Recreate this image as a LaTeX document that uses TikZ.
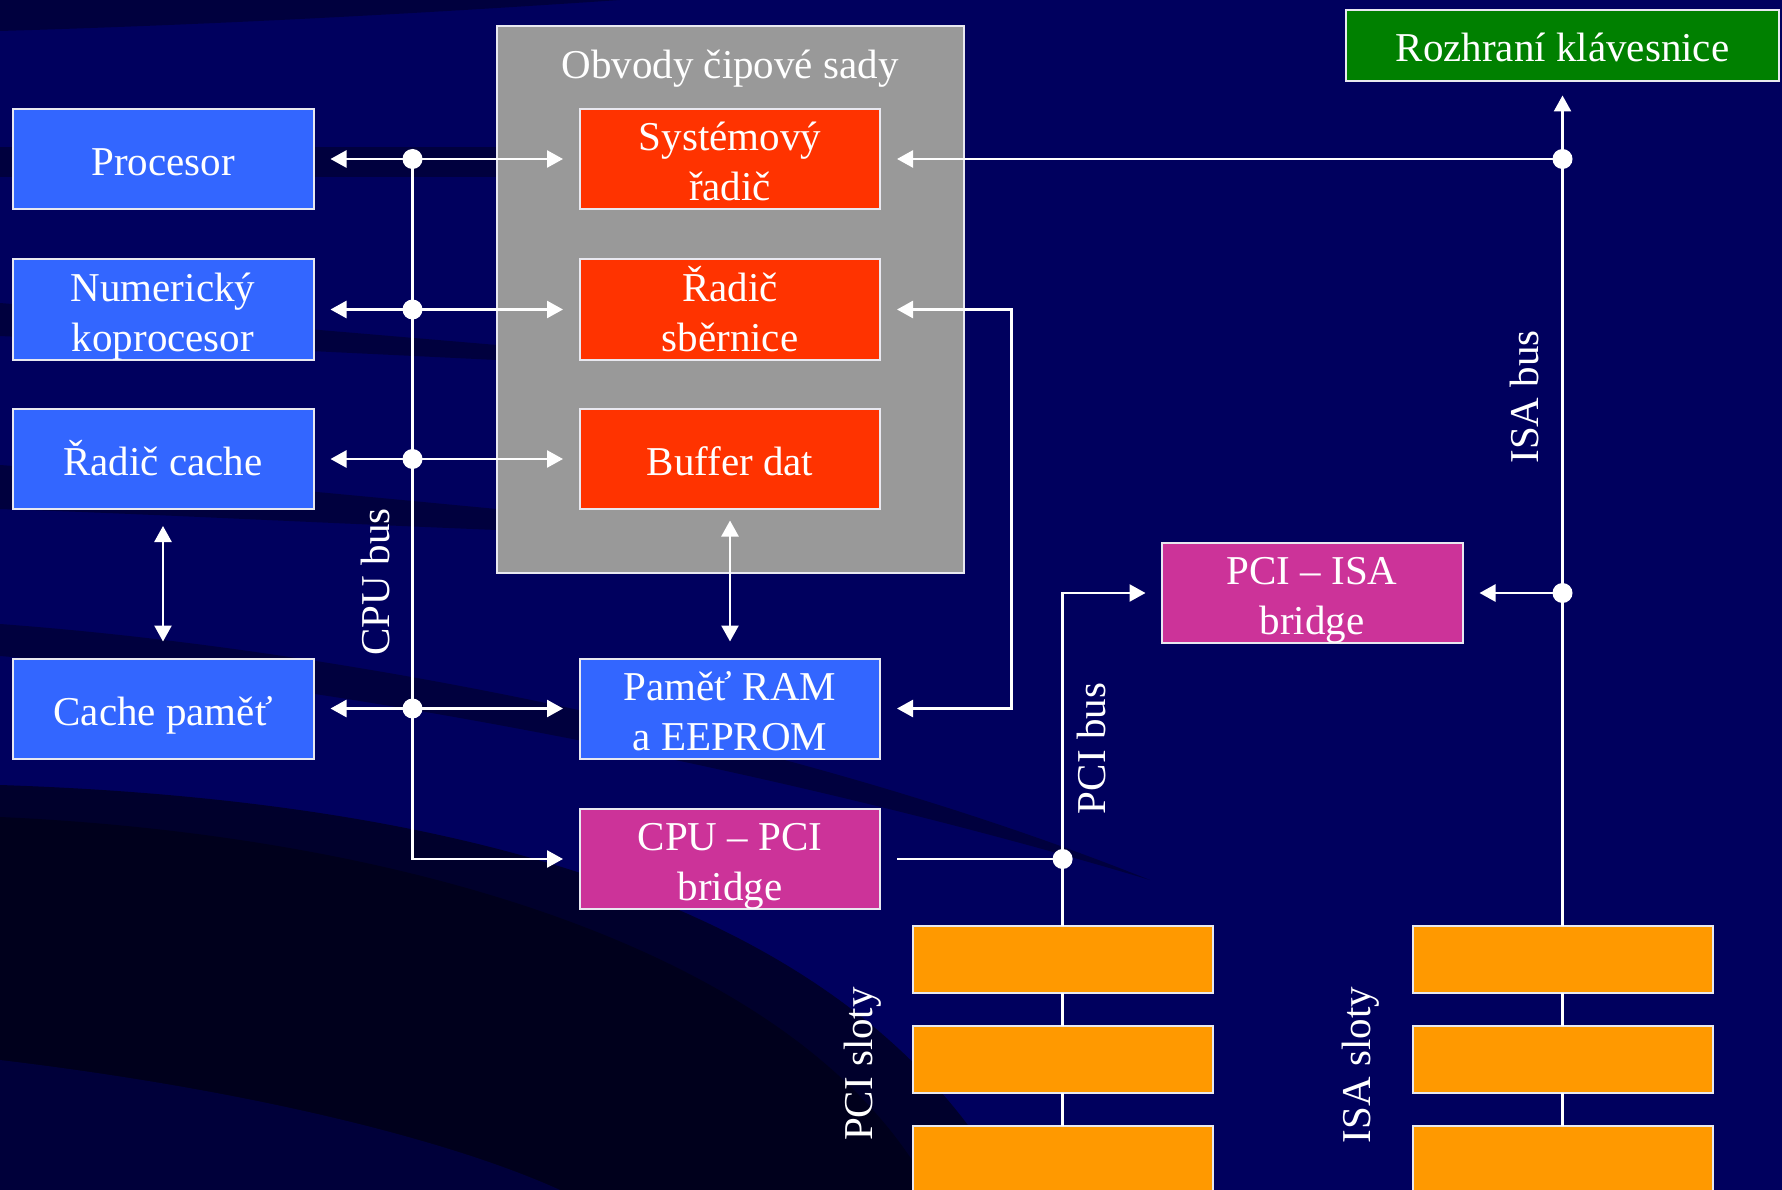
\documentclass[tikz,border=0pt]{standalone}
\usepackage{fontspec}
\setmainfont{Liberation Serif}
\usetikzlibrary{arrows.meta}
\definecolor{bgnavy}{RGB}{0,0,94}
\definecolor{bgdark}{RGB}{0,0,62}
\definecolor{bgdarker}{RGB}{0,0,44}
\definecolor{bgblack}{RGB}{0,0,28}
\definecolor{bgmid}{RGB}{0,0,58}
\definecolor{boxblue}{RGB}{51,102,255}
\definecolor{boxred}{RGB}{255,51,0}
\definecolor{boxmag}{RGB}{204,51,153}
\definecolor{boxgreen}{RGB}{0,128,0}
\definecolor{boxorange}{RGB}{255,153,0}
\definecolor{boxgrey}{RGB}{153,153,153}
\definecolor{edge}{RGB}{232,232,240}
\begin{document}
\begin{tikzpicture}[x=1pt,y=-1pt,
  txtfont/.style={text=white,font=\fontsize{41pt}{50pt}\selectfont},
  box/.style={draw=edge,line width=2pt,minimum width=300pt,minimum height=100pt,
    inner sep=0pt,outer sep=0pt,txtfont,align=center},
  one/.style={text height=33pt,text depth=0pt},
  two/.style={text height=83pt,text depth=0pt},
  slotbox/.style={draw=edge,line width=2pt,fill=boxorange,minimum width=300pt,
    minimum height=67pt,inner sep=0pt,outer sep=0pt},
  junc/.style={circle,fill=white,draw=none,minimum size=20pt,inner sep=0pt,outer sep=0pt},
  lbl/.style={txtfont,inner sep=0pt,text height=28pt,text depth=0pt},
  ln/.style={draw=white,line width=2.5pt},
  arr/.style={ln,-{Triangle[length=16pt,width=17pt]},shorten >=17pt},
  dbl/.style={ln,{Triangle[length=16pt,width=17pt]}-{Triangle[length=16pt,width=17pt]},
    shorten <=17pt,shorten >=17pt}
]
\useasboundingbox (0,0) rectangle (1782,1190);
% background
\fill[bgnavy] (0,0) rectangle (1782,1190);
\fill[bgdark] (0,0) -- (620,0) .. controls (400,15) and (200,25) .. (0,31) -- cycle;
\fill[bgdark] (0,147) rectangle (497,177);
\fill[bgdark] (0,303) -- (497,345) -- (497,360) -- (0,336) -- cycle;
\fill[bgdark] (0,465) .. controls (200,480) and (400,500) .. (497,509) -- (497,530)
   .. controls (300,522) and (150,514) .. (0,509) -- cycle;
\fill[bgdark] (0,624) .. controls (350,650) and (800,740) .. (1150,880)
   .. controls (800,775) and (350,685) .. (0,656) -- cycle;
\fill[bgdarker] (0,785) .. controls (450,800) and (850,900) .. (1010,1190) -- (0,1190) -- cycle;
\fill[bgblack] (0,817) .. controls (400,835) and (800,950) .. (930,1190) -- (0,1190) -- cycle;
\fill[bgmid] (0,1060) .. controls (250,1090) and (450,1140) .. (560,1190) -- (0,1190) -- cycle;

% chipset container
\node[draw=edge,line width=2pt,fill=boxgrey,minimum width=467pt,minimum height=547pt,
  inner sep=0pt,outer sep=0pt] (chipset) at (730.2,299.5) {};
\node[txtfont,inner sep=0pt,anchor=base] (chiptitle) at (730,78.5) {Obvody čipové sady};

% left column
\node[box,fill=boxblue,one,minimum width=301pt] (proc) at (163,159) {Procesor};
\node[box,fill=boxblue,two,minimum width=301pt] (numk) at (163,309.5) {Numerický\\koprocesor};
\node[box,fill=boxblue,one,minimum width=301pt] (rcache) at (163,459) {Řadič cache};
\node[box,fill=boxblue,one,minimum width=301pt] (cmem) at (163,708.5) {Cache paměť};

% middle column
\node[box,fill=boxred,two] (sysr) at (730,159) {Systémový\\řadič};
\node[box,fill=boxred,two] (busr) at (730,309.5) {Řadič\\sběrnice};
\node[box,fill=boxred,one] (buf) at (730,459) {Buffer dat};
\node[box,fill=boxblue,two] (ram) at (730,708.5) {Paměť RAM\\a EEPROM};
\node[box,fill=boxmag,two] (cpupci) at (730,859) {CPU – PCI\\bridge};

% right
\node[box,fill=boxmag,two,minimum width=301pt] (pciisa) at (1312,593) {PCI – ISA\\bridge};
\node[box,fill=boxgreen,one,minimum width=433pt,minimum height=71pt] (kbd) at (1562.5,45.5) {Rozhraní klávesnice};

% slots
\node[slotbox] (ps1) at (1062.6,959.5) {};
\node[slotbox] (ps2) at (1062.6,1059.5) {};
\node[slotbox,minimum height=100pt] (ps3) at (1062.6,1176) {};
\node[slotbox] (is1) at (1562.5,959.5) {};
\node[slotbox] (is2) at (1562.5,1059.5) {};
\node[slotbox,minimum height=100pt] (is3) at (1562.5,1176) {};

% junctions
\node[junc] (c1) at (412.5,159) {};
\node[junc] (c2) at (412.5,309.5) {};
\node[junc] (c3) at (412.5,459) {};
\node[junc] (c4) at (412.5,708.5) {};
\node[junc] (i1) at (1562.5,159) {};
\node[junc] (i2) at (1562.5,593) {};
\node[junc] (p1) at (1062.6,859) {};
\coordinate (loopx) at (1011.5,0);

% CPU bus
\draw[dbl] (proc) -- (sysr);
\draw[dbl] (numk) -- (busr);
\draw[dbl] (rcache) -- (buf);
\draw[dbl] (cmem) -- (ram);
\draw[arr] (c1.center) |- (cpupci.west);
\draw[dbl] (rcache) -- (cmem);
\draw[dbl,shorten <=11.5pt] (buf) -- (ram);
\draw[dbl] (busr.east) -- (busr.east -| loopx) -- (ram.east -| loopx) -- (ram.east);

% ISA bus
\draw[arr,shorten >=14.5pt] (is1.north) -- (kbd.south);
\draw[arr] (i1.center) -- (sysr.east);
\draw[arr] (i2.center) -- (pciisa.east);

% PCI bus
\draw[ln,shorten <=17pt] (cpupci.east) -- (p1.center);
\draw[arr,shorten >=16pt] (ps1.north) |- (pciisa.west);

% slot links
\draw[ln] (ps1.south) -- (ps2.north);
\draw[ln] (ps2.south) -- (ps3.north);
\draw[ln] (is1.south) -- (is2.north);
\draw[ln] (is2.south) -- (is3.north);

% bus labels
\node[lbl,rotate=90] (cpubus) at (375,582) {CPU bus};
\node[lbl,rotate=90] (pcibus) at (1091,748.5) {PCI bus};
\node[lbl,rotate=90] (isabus) at (1524,397) {ISA bus};
\node[lbl,rotate=90] (pcisl) at (858,1064) {PCI sloty};
\node[lbl,rotate=90] (isasl) at (1356,1065) {ISA sloty};
\end{tikzpicture}
\end{document}
